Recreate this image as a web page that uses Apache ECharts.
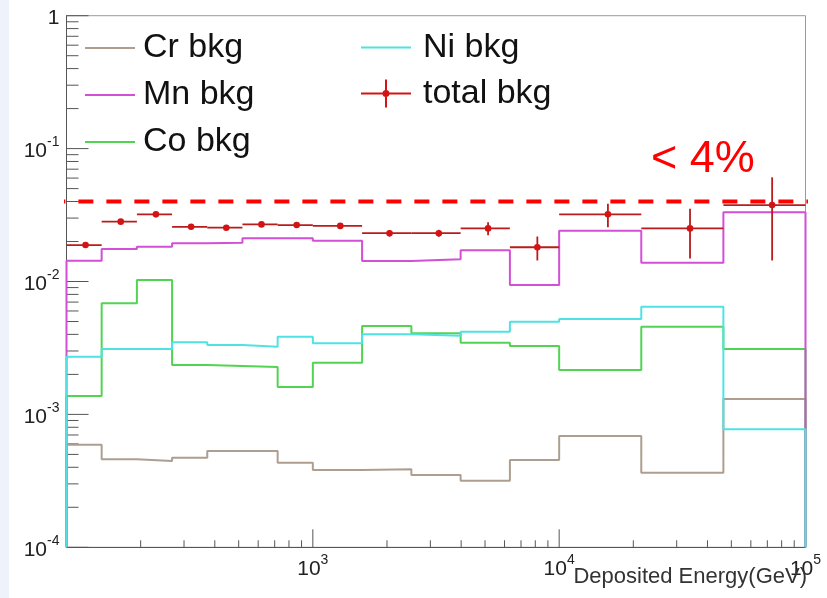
<!DOCTYPE html>
<html><head><meta charset="utf-8">
<script src="https://cdn.jsdelivr.net/npm/echarts@6/dist/echarts.min.js"></script>
<style>html,body{margin:0;padding:0;background:#fff}#c{width:827px;height:598px}</style>
</head><body><div id="c"></div>
<script>
// ---- data ----
const binEdges = [100, 138.9, 193.1, 268.3, 372.8, 517.9, 719.7, 1000, 1584.9, 2511.9, 3981.1, 6309.6, 10000, 21544, 46416, 100000];
const crBkg = [5.9e-4, 4.6e-4, 4.46e-4, 4.72e-4, 5.3e-4, 5.3e-4, 4.33e-4, 3.82e-4, 3.86e-4, 3.5e-4, 3.17e-4, 4.54e-4, 6.88e-4, 3.64e-4, 1.305e-3];
const mnBkg = [0.01434, 0.01756, 0.01827, 0.01938, 0.01958, 0.02113, 0.02113, 0.02028, 0.01426, 0.01469, 0.01717, 0.00941, 0.02411, 0.01385, 0.03317];
const coBkg = [1.375e-3, 6.86e-3, 0.01026, 2.353e-3, 2.313e-3, 2.273e-3, 1.608e-3, 2.449e-3, 4.626e-3, 4.076e-3, 3.463e-3, 3.271e-3, 2.158e-3, 4.57e-3, 3.105e-3];
const niBkg = [2.718e-3, 3.105e-3, 3.105e-3, 3.487e-3, 3.328e-3, 3.232e-3, 3.842e-3, 3.428e-3, 4.005e-3, 3.909e-3, 4.19e-3, 4.982e-3, 5.221e-3, 6.462e-3, 7.72e-4];
const totalBkg = [0.0188, 0.0282, 0.0320, 0.0258, 0.0254, 0.0269, 0.0266, 0.0262, 0.0231, 0.0231, 0.0251, 0.0181, 0.0320, 0.0251, 0.0376];
const totalErr = [0.0006, 0.0008, 0.0009, 0.0008, 0.0008, 0.0009, 0.0009, 0.0009, 0.0013, 0.0014, 0.0028, 0.0037, 0.0064, 0.0102, 0.0232];
const limitLevel = 0.04;
const limitSpan = [86, 116800];
const limitText = '< 4%';
const seriesNames = ['Cr bkg', 'Mn bkg', 'Co bkg', 'Ni bkg', 'total bkg'];
const xAxisTitle = 'Deposited Energy(GeV)';
const xRange = [100, 100000];
const yRange = [1e-4, 1];
const xMajorTicks = [100, 1000, 10000, 100000];
const xMinorTicks = [200, 300, 400, 500, 600, 700, 800, 900, 2000, 3000, 4000, 5000, 6000, 7000, 8000, 9000, 20000, 30000, 40000, 50000, 60000, 70000, 80000, 90000];
const yMajorTicks = [1e-4, 1e-3, 1e-2, 1e-1, 1];
const yMinorTicks = [2e-4, 3e-4, 4e-4, 5e-4, 6e-4, 7e-4, 8e-4, 9e-4, 2e-3, 3e-3, 4e-3, 5e-3, 6e-3, 7e-3, 8e-3, 9e-3, 0.02, 0.03, 0.04, 0.05, 0.06, 0.07, 0.08, 0.09, 0.2, 0.3, 0.4, 0.5, 0.6, 0.7, 0.8, 0.9];

// ---- build ----
const FONT = 'Liberation Sans, Arial, Helvetica, sans-serif';
const colors = {cr: '#ad9e90', mn: '#d24fd6', co: '#52d452', ni: '#4fe2e2', tot: '#d41414', totLine: '#b81c1c'};
const LINE_ICON = 'path://M0,0h50v2.2h-50z';

function stepData(vals) {
  const d = [[binEdges[0], yRange[0]]];
  vals.forEach((v, i) => { d.push([binEdges[i], v]); d.push([binEdges[i + 1], v]); });
  d.push([binEdges[binEdges.length - 1], yRange[0]]);
  return d;
}
function histSeries(name, vals, color, z) {
  return {name, type: 'line', data: stepData(vals), symbol: 'none', clip: false, z,
    lineStyle: {color, width: 2}, itemStyle: {color}, emphasis: {disabled: true}, animation: false};
}
function tickSeries(values, isX, len) {
  return {type: 'custom', silent: true, clip: false, z: 1, animation: false,
    data: values.map(v => isX ? [v, yRange[0]] : [xRange[0], v]),
    renderItem: (p, api) => {
      const pt = api.coord([api.value(0), api.value(1)]);
      const shape = isX ? {x1: pt[0], y1: pt[1], x2: pt[0], y2: pt[1] - len}
                        : {x1: pt[0], y1: pt[1], x2: pt[0] + len, y2: pt[1]};
      return {type: 'line', shape, style: {stroke: '#555', lineWidth: 1}};
    }};
}
function expLabel(v) {
  const e = Math.round(Math.log10(v));
  if (e === 0) return '{b|1}';
  return '{b|10}{s|' + e + '}';
}
const totalData = totalBkg.map((v, i) => [binEdges[i], binEdges[i + 1], (binEdges[i] + binEdges[i + 1]) / 2, v, totalErr[i]]);

const richLbl = {
  b: {fontSize: 21, fontFamily: FONT, color: '#222', lineHeight: 26, verticalAlign: 'bottom'},
  s: {fontSize: 14, fontFamily: FONT, color: '#222', lineHeight: 26, verticalAlign: 'top'}
};

const chart = echarts.init(document.getElementById('c'), null, {renderer: 'canvas'});
chart.setOption({
  animation: false,
  backgroundColor: '#ffffff',
  grid: {left: 66.5, right: 21.5, top: 15.7, bottom: 50.7, show: true, borderColor: '#9a9a9a', borderWidth: 1, containLabel: false},
  xAxis: {type: 'log', logBase: 10, min: xRange[0], max: xRange[1],
    axisLine: {show: true, lineStyle: {color: '#555', width: 1}}, axisTick: {show: false}, splitLine: {show: false},
    axisLabel: {margin: 6, showMinLabel: true, showMaxLabel: true, hideOverlap: false,
      formatter: v => Math.round(Math.log10(v)) === 2 ? '' : expLabel(v), rich: richLbl}},
  yAxis: {type: 'log', logBase: 10, min: yRange[0], max: yRange[1],
    axisLine: {show: true, lineStyle: {color: '#555', width: 1}}, axisTick: {show: false}, splitLine: {show: false},
    axisLabel: {margin: 7, showMinLabel: true, showMaxLabel: true, hideOverlap: false, formatter: expLabel, rich: richLbl}},
  legend: [
    {data: [{name: seriesNames[0], icon: LINE_ICON}, {name: seriesNames[1], icon: LINE_ICON}, {name: seriesNames[2], icon: LINE_ICON}],
      orient: 'vertical', left: 85, top: 31, padding: 0,
      itemWidth: 50, itemHeight: 14, itemGap: 13, selectedMode: false,
      textStyle: {fontSize: 34, fontFamily: FONT, color: '#111', padding: [0, 0, 0, 3]}},
    {data: [{name: seriesNames[3], icon: LINE_ICON}, {name: seriesNames[4], icon: 'path://M0,13h50v2h-50z M24,0h2v28h-2z M25,10.5a3.5,3.5 0 1 1 -0.01,0z'}],
      orient: 'vertical', left: 361, top: 30.5, padding: 0,
      itemWidth: 50, itemHeight: 28, itemGap: 12, selectedMode: false,
      textStyle: {fontSize: 34, fontFamily: FONT, color: '#111', padding: [0, 0, 0, 7]}}
  ],
  graphic: [
    {type: 'rect', left: 0, top: 0, shape: {width: 9, height: 598}, style: {fill: '#eef2fb'}, silent: true, z: -10},
    {type: 'text', right: 20, top: 566, style: {text: xAxisTitle, font: '22px ' + FONT, fill: '#333'}, z: 50},
    {type: 'text', left: 651, top: 137, style: {text: limitText, font: '45px ' + FONT, fill: '#ff0000'}, z: 50}
  ],
  series: [
    tickSeries(xMajorTicks, true, 18),
    tickSeries(xMinorTicks, true, 7),
    tickSeries(yMajorTicks, false, 22),
    tickSeries(yMinorTicks, false, 12),
    histSeries(seriesNames[0], crBkg, colors.cr, 2),
    histSeries(seriesNames[2], coBkg, colors.co, 3),
    histSeries(seriesNames[1], mnBkg, colors.mn, 4),
    histSeries(seriesNames[3], niBkg, colors.ni, 5),
    {name: seriesNames[4], type: 'custom', data: totalData, clip: false, z: 6, animation: false,
      itemStyle: {color: colors.tot},
      encode: {x: [0, 1, 2], y: [3]},
      renderItem: (p, api) => {
        const lo = api.value(0), hi = api.value(1), xc = api.value(2), v = api.value(3), e = api.value(4);
        const pl = api.coord([lo, v]), pr = api.coord([hi, v]), pc = api.coord([xc, v]);
        const pt = api.coord([xc, v + e]), pb = api.coord([xc, v - e]);
        return {type: 'group', children: [
          {type: 'line', shape: {x1: pl[0], y1: pl[1], x2: pr[0], y2: pr[1]}, style: {stroke: colors.totLine, lineWidth: 1.8}},
          {type: 'line', shape: {x1: pc[0], y1: pt[1], x2: pc[0], y2: pb[1]}, style: {stroke: colors.totLine, lineWidth: 1.8}},
          {type: 'circle', shape: {cx: pc[0], cy: pc[1], r: 3.3}, style: {fill: colors.tot}}
        ]};
      }},
    {type: 'line', data: [[limitSpan[0], limitLevel], [limitSpan[1], limitLevel]], symbol: 'none', clip: false, z: 7,
      silent: true, lineStyle: {color: '#ff0000', width: 4, type: [15, 13]}, animation: false}
  ]
});
</script></body></html>
